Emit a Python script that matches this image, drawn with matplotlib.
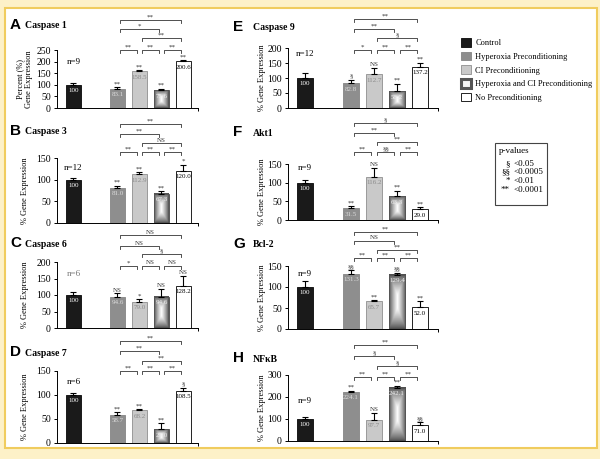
import numpy as np
import matplotlib.pyplot as plt
from matplotlib.patches import Patch, Rectangle

# grupos y posiciones en el eje x
grupos = ['Control', 'Hyperoxia Preconditioning', 'CI Preconditioning',
          'Hyperoxia and CI Preconditioning', 'No Preconditioning']
xpos = [0, 2, 3, 4, 5]

# valores (% expresion) y errores
caspase1 = [100, 83.1, 158.5, 75.6, 200.6]
caspase1_err = [8, 6, 4, 8, 5]
caspase1_sig = ['', '**', '**', '**', '**']
caspase1_br = ['**', '**', '**', '**', '*', '**']

caspase3 = [100, 81.0, 112.9, 67.3, 120.0]
caspase3_err = [3, 5, 4, 6, 15]
caspase3_sig = ['', '**', '**', '**', '*']
caspase3_br = ['**', '**', '**', 'NS', '**', '**']

caspase6 = [100, 94.6, 79.0, 94.6, 128.2]
caspase6_err = [10, 10, 8, 25, 30]
caspase6_sig = ['', 'NS', '*', 'NS', 'NS']
caspase6_br = ['*', 'NS', 'NS', '§', 'NS', 'NS']

caspase7 = [100, 58.7, 68.2, 29.0, 108.5]
caspase7_err = [5, 5, 2, 12, 7]
caspase7_sig = ['', '**', '**', '**', '§']
caspase7_br = ['**', '**', '**', '**', '**', '**']

caspase9 = [100, 82.8, 112.7, 56.2, 137.2]
caspase9_err = [17, 12, 20, 25, 14]
caspase9_sig = ['', '§', 'NS', '**', '**']
caspase9_br = ['*', '**', '**', '§', '**', '**']

akt1 = [100, 31.5, 116.2, 63.3, 29.0]
akt1_err = [8, 6, 24, 15, 6]
akt1_sig = ['', '**', 'NS', '**', '**']
akt1_br = ['**', '§§', '**', '**', '**', '§']

bcl2 = [100, 131.3, 65.7, 129.4, 52.0]
bcl2_err = [14, 9, 3, 5, 15]
bcl2_sig = ['', '§§', '**', '§§', '**']
bcl2_br = ['**', '**', '**', '**', 'NS', '**']

nfkb = [100, 224.1, 97.7, 242.1, 71.0]
nfkb_err = [10, 5, 29, 10, 15]
nfkb_sig = ['', '**', 'NS', '**', '§§']
nfkb_br = ['**', '**', '**', '§', '§', '**']

# pares de los corchetes: (i, j, nivel)
pares = [(1, 2, 0), (2, 3, 0), (3, 4, 0), (2, 4, 1), (1, 3, 2), (1, 4, 3)]

W, H = 600, 459
fig = plt.figure(figsize=(6, 4.59), dpi=100)
fig.patch.set_facecolor('#fdf1c8')
fig.patches.append(Rectangle((5 / W, 1 - 448 / H), 592 / W, 440 / H,
                             transform=fig.transFigure, facecolor='white',
                             edgecolor='#f0cc5e', linewidth=1.5, zorder=-5))

serif = 'Liberation Serif'
colores = ['#1a1a1a', '#8e8e8e', '#c9c9c9', 'white', 'white']
bordes = ['#1a1a1a', '#8e8e8e', '#9a9a9a', '#555555', '#222222']
col_txt = ['white', '#dcdcdc', '#8a8a8a', '#f0f0f0', 'black']


def gradiente(ax, x0, w, h):
    u = np.linspace(0, 1, 40)
    v = np.linspace(0, 1, 80)
    a = np.minimum(u, 1 - u) * 2
    b = np.minimum(v, 1 - v) * 2
    inten = np.minimum(a[None, :], b[:, None] * 1.3)
    img = 0.3 + 0.7 * np.clip(inten, 0, 1) ** 0.8
    ax.imshow(img, extent=[x0, x0 + w, 0, h], origin='lower', aspect='auto',
              cmap='gray', vmin=0, vmax=1, zorder=2)


paneles = [
    # letra, titulo, valores, err, sig, br, ymax, paso, (x0,top,x1,bottom), offsets, n, n_y, izq
    ('A', 'Caspase 1', caspase1, caspase1_err, caspase1_sig, caspase1_br, 250, 50,
     (57, 50, 198, 108), [0, 12, 21, 30], 'n=9', 200, True),
    ('B', 'Caspase 3', caspase3, caspase3_err, caspase3_sig, caspase3_br, 150, 50,
     (57, 158, 198, 223), [6, 15, 24, 34], 'n=12', 128, True),
    ('C', 'Caspase 6', caspase6, caspase6_err, caspase6_sig, caspase6_br, 200, 50,
     (57, 262, 198, 328), [-4, 8, 16, 27], 'n=6', 165, True),
    ('D', 'Caspase 7', caspase7, caspase7_err, caspase7_sig, caspase7_br, 150, 50,
     (57, 371, 198, 443), [0, 10, 20, 30], 'n=6', 128, True),
    ('E', 'Caspase 9', caspase9, caspase9_err, caspase9_sig, caspase9_br, 200, 50,
     (288, 48, 438, 108), [-2, 10, 19, 29], 'n=12', 180, False),
    ('F', 'Akt1', akt1, akt1_err, akt1_sig, akt1_br, 150, 50,
     (288, 164, 438, 220), [12, 22, 31, 41], 'n=9', 140, False),
    ('G', 'Bcl-2', bcl2, bcl2_err, bcl2_sig, bcl2_br, 150, 50,
     (288, 266, 438, 329), [8, 16, 25, 34], 'n=9', 132, False),
    ('H', 'NFκB', nfkb, nfkb_err, nfkb_sig, nfkb_br, 300, 100,
     (288, 375, 438, 441), [-2, 9, 19, 30], 'n=9', 180, False),
]

for (letra, titulo, vals, errs, sig, br, ymax, paso, caja, offs,
     ntxt, ny, izq) in paneles:
    x0, top, x1, bot = caja
    alto = bot - top
    ax = fig.add_axes([x0 / W, 1 - bot / H, (x1 - x0) / W, alto / H])
    ax.set_facecolor('none')
    if izq:
        xl = (-0.75, 5.66)
        ancho = 0.68
    else:
        xl = (-0.74, 5.78)
        ancho = 0.70

    barras = ax.bar(xpos, vals, width=ancho, color=colores, edgecolor=bordes,
                    linewidth=0.7, zorder=3)
    barras[3].set_facecolor('none')
    gradiente(ax, xpos[3] - ancho / 2, ancho, vals[3])
    ax.errorbar(xpos, vals, yerr=[np.zeros(5), errs], fmt='none', ecolor='black',
                elinewidth=0.8, capsize=2, capthick=0.8, zorder=4)

    for i in range(5):
        ax.annotate(f'{vals[i]:g}' if i == 0 else f'{vals[i]:.1f}', (xpos[i], vals[i]),
                    xytext=(0, -2.5), textcoords='offset points', ha='center',
                    va='top', fontsize=5, family=serif, color=col_txt[i], zorder=5)
        if sig[i]:
            ax.annotate(sig[i], (xpos[i], vals[i] + errs[i]), xytext=(0, 0.5),
                        textcoords='offset points', ha='center', va='bottom',
                        fontsize=5, family=serif, color='#333333', zorder=5)

    ax.text(xpos[0], ny, ntxt, ha='center', va='center', fontsize=6.5,
            family=serif, color='#777777' if letra == 'C' else 'black')

    # corchetes de comparacion (y en fraccion del eje)
    tr = ax.get_xaxis_transform()
    for (i, j, nivel), marca in zip(pares, br):
        yl = 1 + offs[nivel] / alto
        yt = yl - 3 / alto
        xa, xb = xpos[i] + 0.12, xpos[j] - 0.12
        ax.plot([xa, xa, xb, xb], [yt, yl, yl, yt], color='#333333', lw=0.6,
                transform=tr, clip_on=False)
        ax.text((xpos[i] + xpos[j]) / 2, yl + 0.5 / alto, marca, transform=tr,
                ha='center', va='bottom', fontsize=5, family=serif, color='#333333')

    ax.set_xlim(*xl)
    ax.set_ylim(0, ymax)
    ax.set_yticks(np.arange(0, ymax + 1, paso))
    ax.set_xticks([xl[1]])
    ax.set_xticklabels([''])
    ax.tick_params(axis='y', labelsize=7, length=2.5, width=0.7, pad=2)
    ax.tick_params(axis='x', length=2.5, width=0.7)
    for lab in ax.get_yticklabels():
        lab.set_family(serif)
    for s in ('top', 'right'):
        ax.spines[s].set_visible(False)
    for s in ('left', 'bottom'):
        ax.spines[s].set_linewidth(0.7)

    if letra == 'A':
        ax.set_ylabel('Percent (%)\nGene Expression', fontsize=6, family=serif,
                      linespacing=1.1)
        ax.yaxis.set_label_coords(-0.17, 0.5)
    else:
        ax.set_ylabel('% Gene Expression', fontsize=6, family=serif)
        ax.yaxis.set_label_coords(-0.2 if izq else -0.15, 0.5)

    # letra y titulo del panel
    lx = 10 if izq else 233
    ly = {'A': 25, 'B': 131, 'C': 243, 'D': 352, 'E': 27, 'F': 132, 'G': 244, 'H': 358}[letra]
    fig.text(lx / W, 1 - ly / H, letra, fontsize=11, fontweight='bold',
             family='Liberation Sans', va='center', ha='left')
    fig.text((lx + (15 if izq else 20)) / W, 1 - (ly + 1) / H, titulo, fontsize=7,
             fontweight='bold', family=serif, va='center', ha='left')

# leyenda de grupos
manijas = [Patch(facecolor=colores[k], edgecolor=bordes[k], linewidth=0.7)
           for k in range(5)]
manijas[3] = Patch(facecolor='#f4f4f4', edgecolor='#555555', linewidth=2.2)
fig.legend(manijas, grupos, loc='upper left', bbox_to_anchor=(457 / W, 1 - 34 / H),
           frameon=False, prop={'family': serif, 'size': 6}, handlelength=1.2,
           handleheight=1.2, labelspacing=0.55, handletextpad=0.5, borderpad=0)

# cuadro de p-values
fig.patches.append(Rectangle((495 / W, 1 - 205 / H), 52 / W, 62 / H,
                             transform=fig.transFigure, facecolor='white',
                             edgecolor='#444444', linewidth=0.8))
fig.text(499 / W, 1 - 151 / H, 'p-values', fontsize=6.5, family=serif, va='center')
simbolos = ['§', '§§', '*', '**']
umbrales = ['<0.05', '<0.0005', '<0.01', '<0.0001']
for k, (s, u) in enumerate(zip(simbolos, umbrales)):
    yy = 1 - (164 + k * 8.5) / H
    fig.text(510 / W, yy, s, fontsize=6.5, family=serif, va='center', ha='right')
    fig.text(513 / W, yy, u, fontsize=6.5, family=serif, va='center', ha='left')

fig.savefig('out.png', dpi=100, facecolor=fig.get_facecolor())
